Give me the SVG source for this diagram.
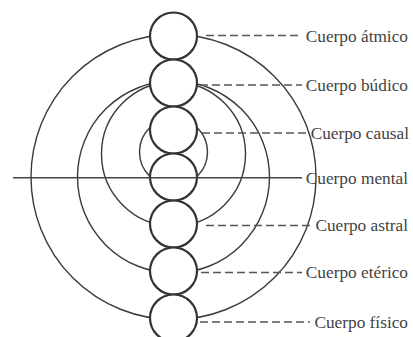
<svg xmlns="http://www.w3.org/2000/svg" width="413" height="337" viewBox="0 0 413 337">
<style>
.arc{fill:none;stroke:#3a3a3a;stroke-width:1.4}
.body{fill:#fff;stroke:#333;stroke-width:2.2}
.lead{fill:none;stroke:#555;stroke-width:1.3;stroke-dasharray:8 4}
.solid{fill:none;stroke:#444;stroke-width:1.6}
.lbl{font-family:"Liberation Serif","Times New Roman",serif;font-size:17.3px;fill:#444;text-anchor:end}
</style>
<rect width="413" height="337" fill="#fff"/>
<g id="arcs">
<circle class="arc" cx="173.5" cy="177" r="142.5"/>
<circle class="arc" cx="173.5" cy="177" r="96"/>
<circle class="arc" cx="173.5" cy="154" r="72"/>
<circle class="arc" cx="173.5" cy="152" r="34"/>
</g>
<g id="connectors">
<line class="lead" x1="206" y1="35.5" x2="302" y2="35.5"/>
<line class="lead" x1="200" y1="85" x2="302" y2="85"/>
<line class="lead" x1="202" y1="133" x2="306" y2="133"/>
<line class="solid" x1="13" y1="177.7" x2="302" y2="177.7"/>
<line class="lead" x1="206" y1="225.5" x2="310" y2="225.5"/>
<line class="lead" x1="201" y1="272.5" x2="302" y2="272.5"/>
<line class="lead" x1="200" y1="322" x2="310" y2="322"/>
</g>
<g id="atmico"><circle class="body" cx="173.5" cy="36" r="23.5"/><text class="lbl" x="408" y="42">Cuerpo átmico</text></g>
<g id="budico"><circle class="body" cx="173.5" cy="83" r="23.5"/><text class="lbl" x="408" y="91">Cuerpo búdico</text></g>
<g id="causal"><circle class="body" cx="173.5" cy="130" r="23.5"/><text class="lbl" x="409" y="139">Cuerpo causal</text></g>
<g id="mental"><circle class="body" cx="173.5" cy="177" r="23.5"/><text class="lbl" x="408" y="184">Cuerpo mental</text></g>
<g id="astral"><circle class="body" cx="173.5" cy="224" r="23.5"/><text class="lbl" x="408" y="231">Cuerpo astral</text></g>
<g id="eterico"><circle class="body" cx="173.5" cy="271" r="23.5"/><text class="lbl" x="408" y="278">Cuerpo etérico</text></g>
<g id="fisico"><circle class="body" cx="173.5" cy="318" r="23.5"/><text class="lbl" x="408" y="328">Cuerpo físico</text></g>
<line class="solid" x1="150" y1="177.7" x2="197" y2="177.7"/>
</svg>
